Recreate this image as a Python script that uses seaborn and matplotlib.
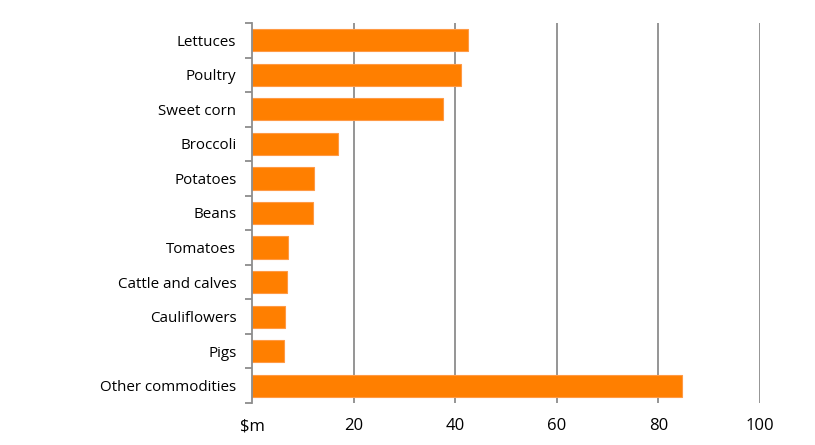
import matplotlib
matplotlib.use("Agg")
import matplotlib.pyplot as plt
import seaborn as sns
import pandas as pd
import numpy as np
from matplotlib.ticker import FixedLocator

categories = ["Lettuces", "Poultry", "Sweet corn", "Broccoli", "Potatoes", "Beans",
              "Tomatoes", "Cattle and calves", "Cauliflowers", "Pigs", "Other commodities"]
values = [42.5, 41.2, 37.6, 16.8, 12.2, 11.9, 7.0, 6.8, 6.45, 6.3, 84.7]
x_ticks = [0, 20, 40, 60, 80, 100]
x_tick_labels = ["$m", "20", "40", "60", "80", "100"]

sns.set_theme(style="white")
plt.rcParams['font.family'] = ['Open Sans', 'DejaVu Sans']

df = pd.DataFrame({"category": categories, "value": values})

fig = plt.figure(figsize=(8.15, 4.45), dpi=100)
ax = fig.add_axes([0.3096, 0.0944, 0.6226, 0.8539])

grid_color = "#8C8C8C"
for t in x_ticks[1:]:
    ax.axvline(t, color=grid_color, lw=1.3, zorder=0)

sns.barplot(data=df, x="value", y="category", orient="h", color="#FF7F00",
            saturation=1, width=0.64, edgecolor="#FF9A45", linewidth=0.8, ax=ax, zorder=3)

ax.set_xlim(0, 100)
ax.set_ylim(len(categories) - 0.5, -0.5)
ax.set_xticks(x_ticks)
ax.set_xticklabels(x_tick_labels)
ax.set_xlabel("")
ax.set_ylabel("")

for s in ["top", "right", "bottom"]:
    ax.spines[s].set_visible(False)
ax.spines["left"].set_color(grid_color)
ax.spines["left"].set_linewidth(1.3)
ax.spines["left"].set_zorder(4)

ax.tick_params(axis="x", length=0, pad=11, labelsize=12, colors="black")
ax.tick_params(axis="y", which="major", length=0, pad=11.5, labelsize=10.9, colors="black")
ax.yaxis.set_minor_locator(FixedLocator(np.arange(-0.5, len(categories), 1.0)))
ax.tick_params(axis="y", which="minor", left=True, length=5, width=1.3, color=grid_color)
for lab in ax.get_yticklabels():
    lab.set_color("black")

fig.savefig("out.png", dpi=100)
